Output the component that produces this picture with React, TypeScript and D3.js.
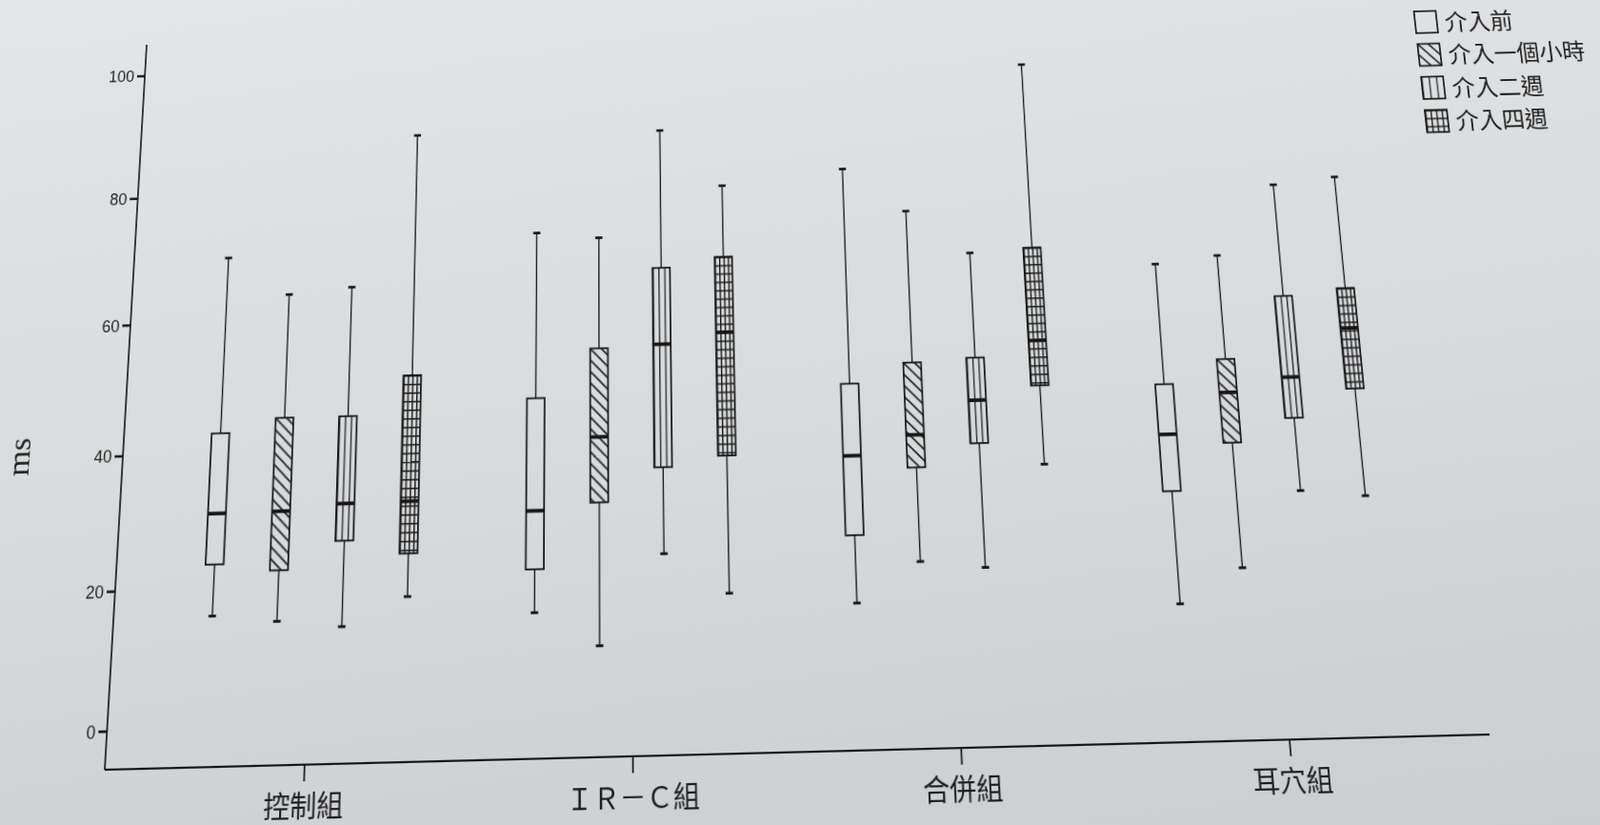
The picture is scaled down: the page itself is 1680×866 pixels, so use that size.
import React from 'react'
import * as d3 from 'd3'

// categories and series
const groups = ['控制組', 'ＩＲ－Ｃ組', '合併組', '耳穴組']
const phases = ['介入前', '介入一個小時', '介入二週', '介入四週']
const yTicks = [0, 20, 40, 60, 80, 100]

// five-number summaries per phase: [low whisker, Q1, median, Q3, high whisker]
const controlStats = [
  [16.1, 23.6, 31.1, 43.1, 70.2],
  [15.1, 22.5, 31.2, 45.2, 64.2],
  [14.1, 26.6, 32.1, 45.2, 65.1],
  [18.2, 24.5, 32.2, 51.2, 89.1]
]
const ircStats = [
  [15.4, 21.7, 30.3, 47.2, 72.9],
  [10.4, 31.3, 41.1, 54.6, 71.9],
  [23.5, 36.3, 55.0, 66.9, 88.9],
  [17.5, 37.8, 56.6, 68.4, 79.7]
]
const combinedStats = [
  [15.6, 25.5, 37.3, 48.2, 81.9],
  [21.4, 35.3, 40.2, 51.2, 74.9],
  [20.3, 38.7, 45.2, 51.7, 68.0],
  [35.3, 47.2, 54.1, 68.6, 98.2]
]
const earStats = [
  [14.3, 30.8, 39.3, 46.9, 65.5],
  [19.3, 37.8, 45.4, 50.5, 66.6],
  [30.4, 41.3, 47.5, 60.0, 77.6],
  [29.4, 45.5, 54.8, 61.0, 78.6]
]
const allStats = [controlStats, ircStats, combinedStats, earStats]

const ink = '#161616'

// the reference is a photo of a printed page, so the flat chart is
// projected with a homography (4 corners of the axes frame)
function homography(src: number[][], dst: number[][]) {
  const A: number[][] = []
  const b: number[] = []
  for (let i = 0; i < 4; i++) {
    const [x, y] = src[i]
    const [X, Y] = dst[i]
    A.push([x, y, 1, 0, 0, 0, -X * x, -X * y])
    b.push(X)
    A.push([0, 0, 0, x, y, 1, -Y * x, -Y * y])
    b.push(Y)
  }
  const n = 8
  for (let c = 0; c < n; c++) {
    let p = c
    for (let r = c + 1; r < n; r++) if (Math.abs(A[r][c]) > Math.abs(A[p][c])) p = r
    ;[A[c], A[p]] = [A[p], A[c]]
    ;[b[c], b[p]] = [b[p], b[c]]
    for (let r = c + 1; r < n; r++) {
      const f = A[r][c] / A[c][c]
      for (let k = c; k < n; k++) A[r][k] -= f * A[c][k]
      b[r] -= f * b[c]
    }
  }
  const h = new Array(n).fill(0)
  for (let r = n - 1; r >= 0; r--) {
    let s = b[r]
    for (let k = r + 1; k < n; k++) s -= A[r][k] * h[k]
    h[r] = s / A[r][r]
  }
  return `matrix3d(${h[0]},${h[3]},0,${h[6]},${h[1]},${h[4]},0,${h[7]},0,0,1,0,${h[2]},${h[5]},0,1)`
}

const left = 110
const right = 1564
const top = 47
const bottom = 808

const warp = homography(
  [[left, bottom], [right, bottom], [left, top], [right, top]],
  [[110, 808], [1564, 771], [154, 47], [1481, 13]]
)

function Fill({ id, phase, x, y, w }: { id: string; phase: number; x: number; y: number; w: number }) {
  if (phase === 1) {
    return (
      <pattern id={id} patternUnits="userSpaceOnUse" x={x} y={y} width={12} height={12}>
        <path d="M-6,-6L18,18M-6,6L6,18M6,-6L18,6" stroke={ink} strokeWidth={1.6} />
      </pattern>
    )
  }
  if (phase === 2) {
    return (
      <pattern id={id} patternUnits="userSpaceOnUse" x={x} y={y} width={w / 3} height={10}>
        <path d="M0.7,0V10" stroke={ink} strokeWidth={1.3} />
      </pattern>
    )
  }
  return (
    <pattern id={id} patternUnits="userSpaceOnUse" x={x} y={y} width={w / 4} height={9}>
      <path d={`M0.7,0V9M0,0.7H${w / 4}`} stroke={ink} strokeWidth={1.5} />
    </pattern>
  )
}

export default function App() {
  const y = d3.scaleLinear().domain([0, 100]).range([771.3, 83.0])
  const x0 = d3.scaleBand<string>().domain(groups).range([147.5, 1526.5])
  const x1 = d3
    .scaleBand<string>()
    .domain(phases)
    .range([0, x0.bandwidth()])
    .paddingInner(0.72)
    .paddingOuter(0.84)
  const bw = x1.bandwidth()

  const legendX = 1568
  const legendY = 46
  const legendStep = 37.5
  const legendBox = 25

  return (
    <div
      style={{
        position: 'fixed',
        left: 0,
        top: 0,
        width: 1680,
        height: 866,
        overflow: 'hidden',
        background: 'linear-gradient(172deg, #e4e5e7 0%, #d9dbdd 45%, #cbcdd0 100%)'
      }}
    >
      <svg
        width={1800}
        height={900}
        style={{
          position: 'absolute',
          left: 0,
          top: 0,
          overflow: 'visible',
          transformOrigin: '0 0',
          transform: warp
        }}
      >
        <defs>
          {allStats.map((g, gi) =>
            g.map((s, pi) =>
              pi === 0 ? null : (
                <Fill
                  key={`${gi}-${pi}`}
                  id={`f-${gi}-${pi}`}
                  phase={pi}
                  x={(x0(groups[gi]) ?? 0) + (x1(phases[pi]) ?? 0)}
                  y={y(s[3])}
                  w={bw}
                />
              )
            )
          )}
          {phases.map((p, pi) =>
            pi === 0 ? null : (
              <Fill
                key={p}
                id={`lg-${pi}`}
                phase={pi}
                x={legendX}
                y={legendY + pi * legendStep}
                w={legendBox}
              />
            )
          )}
        </defs>

        {/* axes */}
        <line x1={left} x2={left} y1={top} y2={bottom} stroke={ink} strokeWidth={1.7} />
        <line x1={left} x2={right} y1={bottom} y2={bottom} stroke={ink} strokeWidth={1.9} />
        {yTicks.map(t => (
          <g key={t}>
            <line x1={left - 9} x2={left} y1={y(t)} y2={y(t)} stroke={ink} strokeWidth={2.6} />
            <text
              x={left - 12}
              y={y(t)}
              dy="0.36em"
              textAnchor="end"
              fontFamily="'Liberation Sans', Arial, sans-serif"
              fontSize={17.5}
              fill="#222"
            >
              {t}
            </text>
          </g>
        ))}
        <text
          transform={`translate(-2, 494) rotate(-90)`}
          textAnchor="middle"
          dy="0.3em"
          fontFamily="'Liberation Serif', serif"
          fontSize={34}
          fill="#222"
        >
          ms
        </text>
        {groups.map(g => {
          const cx = (x0(g) ?? 0) + x0.bandwidth() / 2
          return (
            <g key={g}>
              <line x1={cx} x2={cx} y1={bottom} y2={bottom + 16} stroke={ink} strokeWidth={1.7} />
              <text
                x={cx}
                y={bottom + 50}
                textAnchor="middle"
                fontFamily="'Noto Sans CJK TC', sans-serif"
                fontSize={28}
                fill="#1e1e1e"
              >
                {g}
              </text>
            </g>
          )
        })}

        {/* boxes */}
        {allStats.map((g, gi) =>
          g.map((s, pi) => {
            const bx = (x0(groups[gi]) ?? 0) + (x1(phases[pi]) ?? 0)
            const cx = bx + bw / 2
            const [lo, q1, med, q3, hi] = s
            return (
              <g key={`${gi}-${pi}`}>
                <line x1={cx} x2={cx} y1={y(hi)} y2={y(q3)} stroke={ink} strokeWidth={1.4} />
                <line x1={cx} x2={cx} y1={y(q1)} y2={y(lo)} stroke={ink} strokeWidth={1.4} />
                <line x1={cx - 4} x2={cx + 4} y1={y(hi)} y2={y(hi)} stroke={ink} strokeWidth={2.8} />
                <line x1={cx - 4} x2={cx + 4} y1={y(lo)} y2={y(lo)} stroke={ink} strokeWidth={2.8} />
                <rect
                  x={bx}
                  y={y(q3)}
                  width={bw}
                  height={y(q1) - y(q3)}
                  fill={pi === 0 ? 'none' : `url(#f-${gi}-${pi})`}
                  stroke={ink}
                  strokeWidth={1.8}
                />
                <line x1={bx} x2={bx + bw} y1={y(med)} y2={y(med)} stroke={ink} strokeWidth={3.8} />
              </g>
            )
          })
        )}

        {/* legend */}
        {phases.map((p, pi) => (
          <g key={p}>
            <rect
              x={legendX}
              y={legendY + pi * legendStep}
              width={legendBox}
              height={legendBox}
              fill={pi === 0 ? 'none' : `url(#lg-${pi})`}
              stroke={ink}
              strokeWidth={1.8}
            />
            <text
              x={legendX + legendBox + 9}
              y={legendY + pi * legendStep + legendBox - 2}
              fontFamily="'Noto Sans CJK TC', sans-serif"
              fontSize={26}
              fill="#1e1e1e"
            >
              {p}
            </text>
          </g>
        ))}
      </svg>
    </div>
  )
}
